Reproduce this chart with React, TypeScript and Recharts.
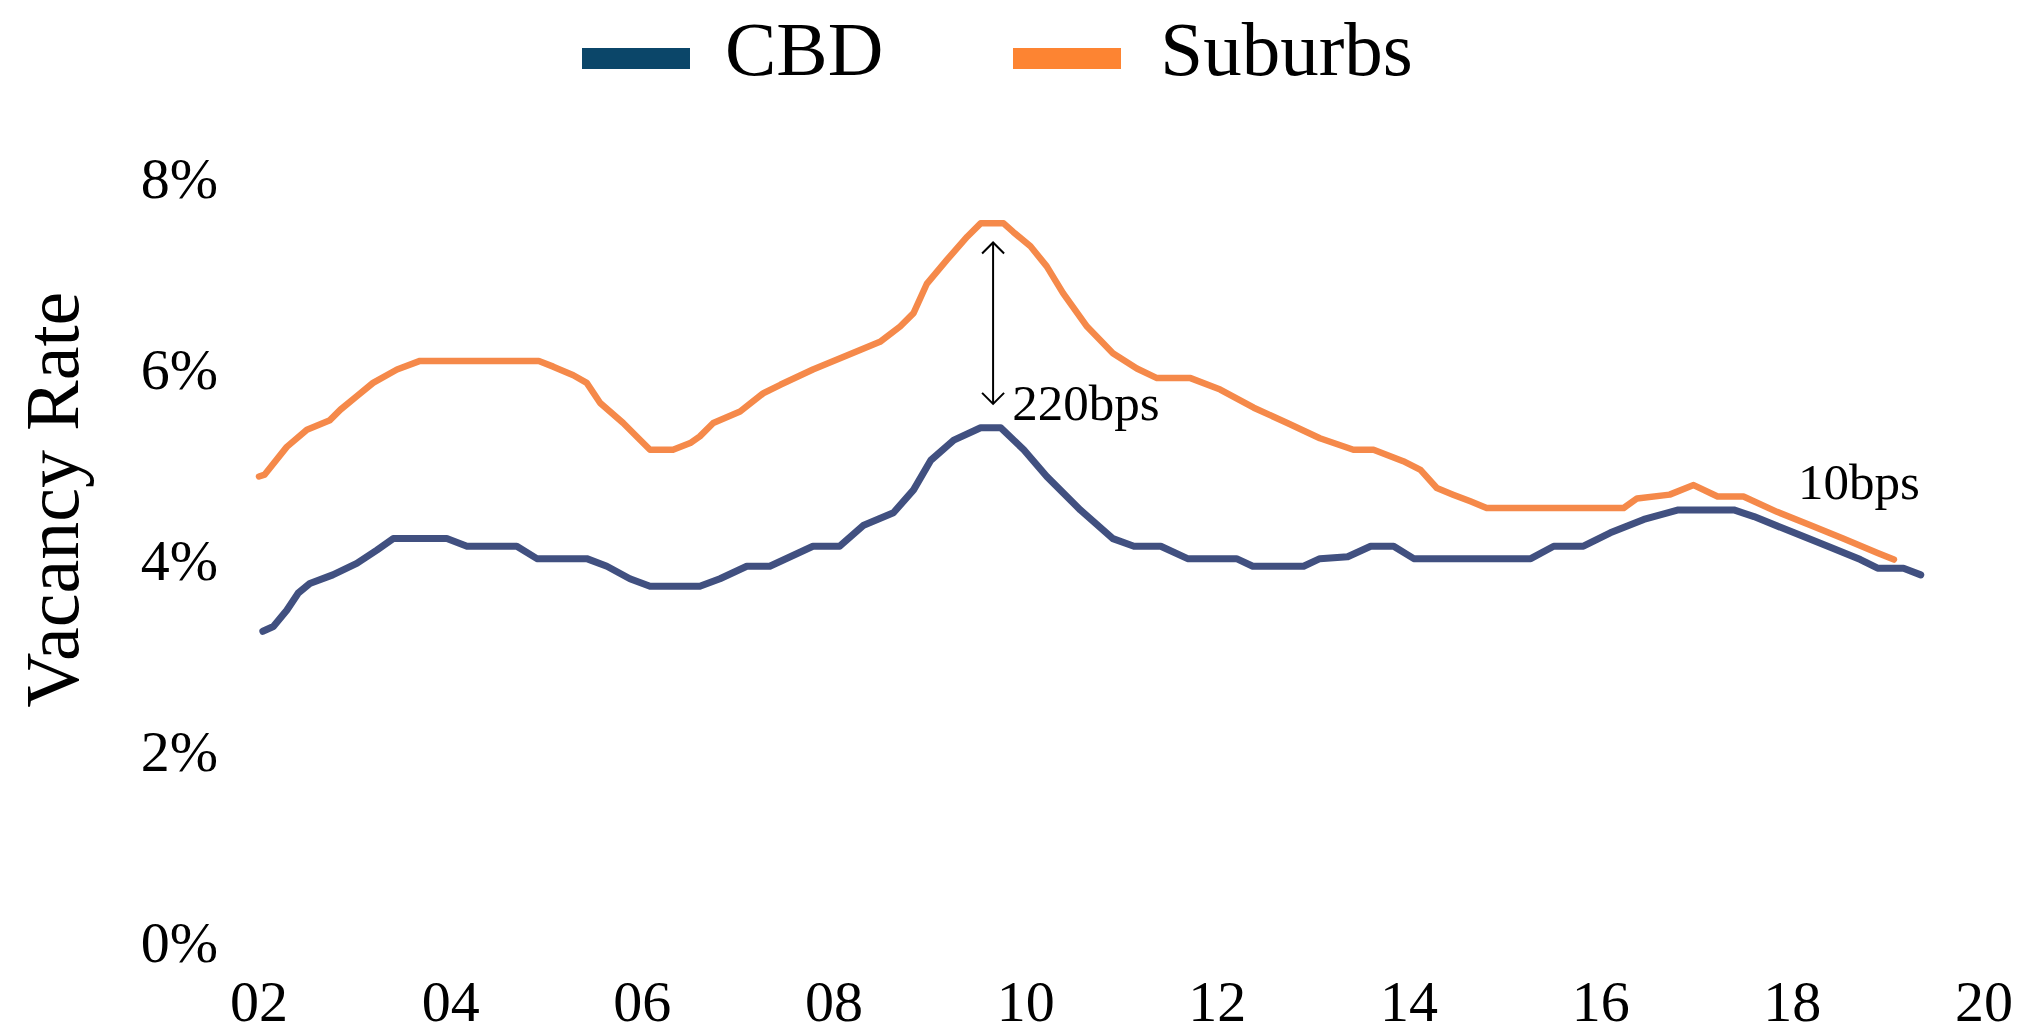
import React from "react";
import {
  Legend,
  Line,
  LineChart,
  ReferenceDot,
  ReferenceLine,
  XAxis,
  YAxis,
} from "recharts";

const cbdDates = [
  2002.04, 2002.15, 2002.29, 2002.41, 2002.53, 2002.77, 2003.02, 2003.23,
  2003.4, 2003.96, 2004.17, 2004.69, 2004.9, 2005.42, 2005.63, 2005.87,
  2006.08, 2006.6, 2006.81, 2007.09, 2007.33, 2007.78, 2008.06, 2008.31,
  2008.62, 2008.83, 2009.01, 2009.25, 2009.53, 2009.74, 2009.98, 2010.22,
  2010.57, 2010.91, 2011.13, 2011.41, 2011.69, 2012.2, 2012.37, 2012.9,
  2013.07, 2013.36, 2013.6, 2013.84, 2014.05, 2015.27, 2015.51, 2015.82,
  2016.1, 2016.45, 2016.81, 2017.39, 2017.6, 2018.02, 2018.37, 2018.71,
  2018.89, 2019.16, 2019.34,
];
const cbdRates = [
  3.25, 3.3, 3.47, 3.65, 3.75, 3.84, 3.96, 4.1, 4.22, 4.22, 4.14, 4.14, 4.01,
  4.01, 3.93, 3.8, 3.72, 3.72, 3.8, 3.93, 3.93, 4.14, 4.14, 4.36, 4.49, 4.73,
  5.04, 5.25, 5.38, 5.38, 5.15, 4.87, 4.52, 4.22, 4.14, 4.14, 4.01, 4.01,
  3.93, 3.93, 4.01, 4.03, 4.14, 4.14, 4.01, 4.01, 4.14, 4.14, 4.28, 4.42,
  4.52, 4.52, 4.45, 4.28, 4.14, 4.0, 3.91, 3.91, 3.84,
];

const suburbsDates = [
  2002.0, 2002.06, 2002.29, 2002.5, 2002.74, 2002.85, 2003.02, 2003.19,
  2003.44, 2003.68, 2004.92, 2005.07, 2005.28, 2005.42, 2005.56, 2005.8,
  2005.98, 2006.08, 2006.32, 2006.5, 2006.6, 2006.74, 2007.02, 2007.26,
  2007.44, 2007.78, 2008.14, 2008.48, 2008.69, 2008.83, 2008.97, 2009.18,
  2009.39, 2009.53, 2009.77, 2009.87, 2010.05, 2010.22, 2010.39, 2010.64,
  2010.91, 2011.16, 2011.37, 2011.72, 2012.03, 2012.38, 2012.73, 2013.07,
  2013.42, 2013.63, 2013.94, 2014.12, 2014.29, 2014.46, 2014.64, 2014.81,
  2016.24, 2016.38, 2016.72, 2016.97, 2017.22, 2017.49, 2017.84, 2018.19,
  2018.53, 2018.89, 2019.06,
];
const suburbsRates = [
  4.87, 4.89, 5.18, 5.36, 5.46, 5.57, 5.71, 5.85, 5.99, 6.08, 6.08, 6.02,
  5.93, 5.85, 5.64, 5.43, 5.25, 5.15, 5.15, 5.22, 5.29, 5.43, 5.55, 5.74,
  5.83, 5.99, 6.14, 6.28, 6.44, 6.58, 6.89, 7.14, 7.38, 7.52, 7.52, 7.43,
  7.28, 7.07, 6.79, 6.44, 6.16, 6.0, 5.9, 5.9, 5.78, 5.59, 5.43, 5.27, 5.15,
  5.15, 5.03, 4.94, 4.75, 4.68, 4.61, 4.54, 4.54, 4.64, 4.68, 4.78, 4.66,
  4.66, 4.5, 4.36, 4.22, 4.07, 4.0,
];

const yearTicks = [2002, 2004, 2006, 2008, 2010, 2012, 2014, 2016, 2018, 2020];
const rateTicks = [0, 2, 4, 6, 8];

const cbd = cbdDates.map((t, i) => ({ t, rate: cbdRates[i] }));
const suburbs = suburbsDates.map((t, i) => ({ t, rate: suburbsRates[i] }));

const FONT = '"Liberation Serif", "Times New Roman", serif';
const legendColors: Record<string, string> = {
  CBD: "#0b4669",
  Suburbs: "#fd8432",
};

function ChartLegend({ payload }: any) {
  return (
    <div style={{ position: "relative", width: 2031, height: 172.5 }}>
      <div
        style={{
          position: "absolute",
          left: 582,
          top: 6,
          display: "flex",
          alignItems: "flex-start",
          fontFamily: FONT,
          fontSize: 77,
          color: "#000",
        }}
      >
        {(payload || []).map((p: any, i: number) => (
          <div
            key={p.value}
            style={{ display: "flex", alignItems: "flex-start", marginLeft: i ? 130 : 0 }}
          >
            <span
              style={{
                display: "inline-block",
                width: 108,
                height: 21,
                marginTop: 37,
                marginRight: i ? 39 : 35,
                background: legendColors[p.value],
              }}
            />
            <span style={{ lineHeight: "76px" }}>{p.value}</span>
          </div>
        ))}
      </div>
    </div>
  );
}

function SpreadArrow(props: any) {
  const { x1, y1, x2, y2 } = props;
  const h = 11;
  return (
    <g stroke="#000" strokeWidth={2} fill="none">
      <line x1={x1} y1={y1} x2={x2} y2={y2} />
      <polyline points={`${x1 - h},${y1 + h} ${x1},${y1} ${x1 + h},${y1 + h}`} />
      <polyline points={`${x2 - h},${y2 - h} ${x2},${y2} ${x2 + h},${y2 - h}`} />
    </g>
  );
}

const note = (text: string) => (p: any) => (
  <text
    x={p.cx}
    y={p.cy}
    fontFamily={FONT}
    fontSize={51}
    fill="#000"
    dominantBaseline="central"
  >
    {text}
  </text>
);

export default function App() {
  return (
    <div style={{ position: "fixed", left: 0, top: 0, background: "#fff" }}>
      <LineChart
        width={2031}
        height={1036}
        margin={{ top: 5, right: 47, bottom: 0, left: 0 }}
      >
        <Legend
          verticalAlign="top"
          content={<ChartLegend />}
          wrapperStyle={{ left: 0, width: 2031 }}
        />
        <XAxis
          dataKey="t"
          type="number"
          domain={[2002, 2020]}
          ticks={yearTicks}
          tickFormatter={(v: number) => String(v % 100).padStart(2, "0")}
          axisLine={false}
          tickLine={false}
          tickSize={0}
          tickMargin={38}
          height={94.3}
          tick={{ fontFamily: FONT, fontSize: 58, fill: "#000" }}
          allowDuplicatedCategory={false}
        />
        <YAxis
          type="number"
          domain={[0, 8]}
          ticks={rateTicks}
          tickFormatter={(v: number) => `${v}%`}
          axisLine={false}
          tickLine={false}
          tickSize={0}
          tickMargin={41}
          width={259}
          tick={{ fontFamily: FONT, fontSize: 58, fill: "#000" }}
          label={{
            content: ({ viewBox }: any) => {
              const x = viewBox.x + 78;
              const y = viewBox.y + viewBox.height / 2 - 60;
              return (
                <text
                  x={x}
                  y={y}
                  transform={`rotate(-90, ${x}, ${y})`}
                  textAnchor="middle"
                  fontFamily={FONT}
                  fontSize={76}
                  fill="#000"
                >
                  Vacancy Rate
                </text>
              );
            },
          }}
        />
        <Line
          data={cbd}
          dataKey="rate"
          name="CBD"
          type="linear"
          stroke="#415080"
          strokeWidth={7}
          strokeLinejoin="round"
          strokeLinecap="round"
          dot={false}
          isAnimationActive={false}
        />
        <Line
          data={suburbs}
          dataKey="rate"
          name="Suburbs"
          type="linear"
          stroke="#f5894a"
          strokeWidth={6.5}
          strokeLinejoin="round"
          strokeLinecap="round"
          dot={false}
          isAnimationActive={false}
        />
        <ReferenceLine
          segment={[
            { x: 2009.66, y: 7.32 },
            { x: 2009.66, y: 5.63 },
          ]}
          shape={SpreadArrow}
        />
        <ReferenceDot x={2009.86} y={5.64} r={0} shape={note("220bps")} />
        <ReferenceDot x={2018.06} y={4.81} r={0} shape={note("10bps")} />
      </LineChart>
    </div>
  );
}
